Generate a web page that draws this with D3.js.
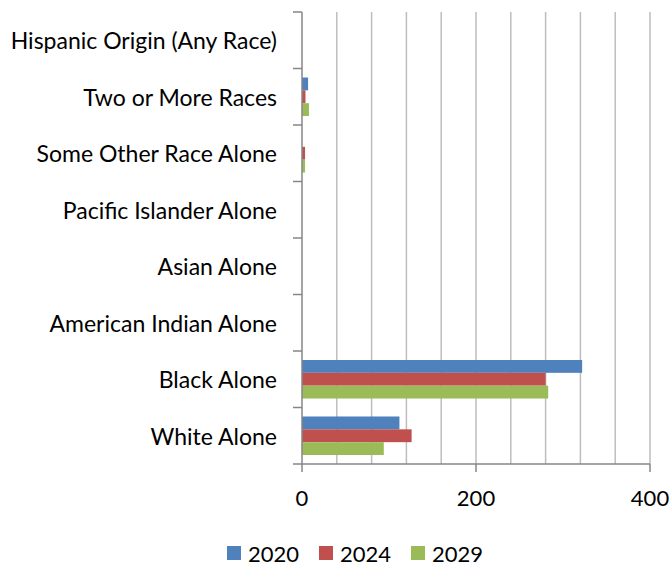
<!DOCTYPE html>
<html>
<head>
<meta charset="utf-8">
<script src="https://cdn.jsdelivr.net/npm/d3@7"></script>
<style>
  body { margin: 0; background: #fff; }
  text { font-family: Lato, "Open Sans", sans-serif; fill: #000; }
</style>
</head>
<body>
<svg id="chart" width="670" height="567"></svg>
<script>
// categories listed bottom to top, as they appear in the chart
const categories = [
    "White Alone",
    "Black Alone",
    "American Indian Alone",
    "Asian Alone",
    "Pacific Islander Alone",
    "Some Other Race Alone",
    "Two or More Races",
    "Hispanic Origin (Any Race)"
];
const years = ["2020", "2024", "2029"];
const values2020 = [112, 322, 0, 0, 0, 0, 7, 0];
const values2024 = [126, 280, 0, 0, 0, 3.5, 4, 0];
const values2029 = [94, 283, 0, 0, 0, 3.5, 8, 0];
const xTicks = [0, 200, 400];
const colors = ["#4F81BD", "#C0504D", "#9BBB59"];

const svg = d3.select("#chart");
const plot = { left: 302, right: 650, top: 12, bottom: 464 };

const x = d3.scaleLinear().domain([0, 400]).range([plot.left, plot.right]);
const y = d3.scaleBand()
    .domain(categories.slice().reverse())
    .range([plot.top, plot.bottom]);
const inner = d3.scaleBand()
    .domain(years)
    .range([0, y.bandwidth()])
    .paddingOuter(0.7);

// gridlines every 40
svg.append("g")
    .selectAll("line")
    .data(d3.range(40, 401, 40))
    .enter()
    .append("line")
    .attr("x1", d => x(d))
    .attr("x2", d => x(d))
    .attr("y1", plot.top)
    .attr("y2", plot.bottom)
    .attr("stroke", "#bdbdbd")
    .attr("stroke-width", 1.5);

// bars
const series = [values2020, values2024, values2029];
const rows = [];
categories.forEach((c, i) => {
    years.forEach((yr, j) => rows.push({ cat: c, year: yr, value: series[j][i], color: colors[j] }));
});
svg.append("g")
    .selectAll("rect")
    .data(rows.filter(d => d.value > 0))
    .enter()
    .append("rect")
    .attr("x", x(0))
    .attr("y", d => y(d.cat) + inner(d.year))
    .attr("width", d => x(d.value) - x(0))
    .attr("height", inner.bandwidth())
    .attr("fill", d => d.color);

// left axis
const yAxis = svg.append("g")
    .attr("transform", `translate(${plot.left},0)`);
yAxis.append("line")
    .attr("x1", 0).attr("x2", 0)
    .attr("y1", plot.top).attr("y2", plot.bottom)
    .attr("stroke", "#868686").attr("stroke-width", 1.5);
yAxis.selectAll("line.tick")
    .data(d3.range(categories.length + 1))
    .enter()
    .append("line")
    .attr("class", "tick")
    .attr("x1", -9).attr("x2", 0)
    .attr("y1", i => plot.top + i * y.step())
    .attr("y2", i => plot.top + i * y.step())
    .attr("stroke", "#868686").attr("stroke-width", 1.5);
yAxis.selectAll("text")
    .data(categories)
    .enter()
    .append("text")
    .attr("x", -25)
    .attr("y", d => y(d) + y.bandwidth() / 2)
    .attr("text-anchor", "end")
    .attr("dominant-baseline", "central")
    .attr("font-size", "23px")
    .text(d => d);

// bottom axis
const xAxis = svg.append("g");
xAxis.append("line")
    .attr("x1", plot.left).attr("x2", plot.right)
    .attr("y1", plot.bottom).attr("y2", plot.bottom)
    .attr("stroke", "#868686").attr("stroke-width", 1.5);
xAxis.selectAll("line.tick")
    .data(xTicks)
    .enter()
    .append("line")
    .attr("class", "tick")
    .attr("x1", d => x(d)).attr("x2", d => x(d))
    .attr("y1", plot.bottom).attr("y2", plot.bottom + 8)
    .attr("stroke", "#868686").attr("stroke-width", 1.5);
xAxis.selectAll("text")
    .data(xTicks)
    .enter()
    .append("text")
    .attr("x", d => x(d))
    .attr("y", plot.bottom + 33)
    .attr("text-anchor", "middle")
    .attr("dominant-baseline", "central")
    .attr("font-size", "22px")
    .text(d => d);

// legend
const legend = svg.append("g").attr("transform", "translate(227,553)");
const item = legend.selectAll("g")
    .data(years)
    .enter()
    .append("g")
    .attr("transform", (d, i) => `translate(${i * 92},0)`);
item.append("rect")
    .attr("x", 0).attr("y", -7)
    .attr("width", 14).attr("height", 14)
    .attr("fill", (d, i) => colors[i]);
item.append("text")
    .attr("x", 21)
    .attr("y", 0)
    .attr("dominant-baseline", "central")
    .attr("font-size", "22px")
    .text(d => d);
</script>
</body>
</html>
